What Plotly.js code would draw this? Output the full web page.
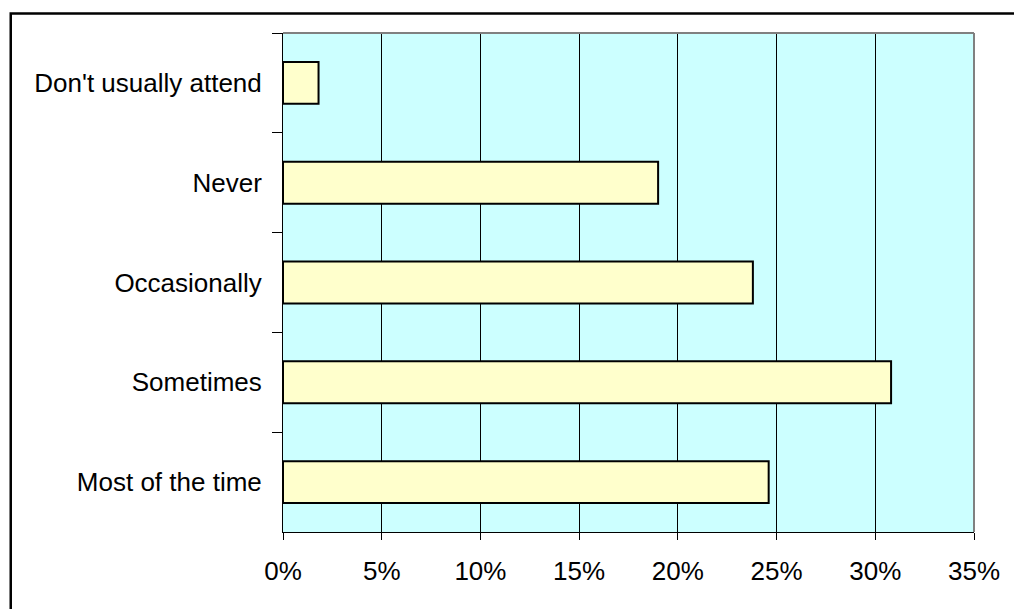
<!DOCTYPE html>
<html>
<head>
<meta charset="utf-8">
<script src="https://cdn.plot.ly/plotly-3.0.1.min.js"></script>
<style>
  html, body { margin: 0; padding: 0; background: #ffffff; }
  #chart { width: 1014px; height: 609px; }
</style>
</head>
<body>
<div id="chart"></div>
<script>
// Attendance responses, listed top to bottom
const categories = ["Don't usually attend", "Never", "Occasionally", "Sometimes", "Most of the time"];
// Share of respondents (%)
const shares = [1.8, 19.0, 23.8, 30.8, 24.6];
// Percentage axis ticks
const tickValues = [0, 5, 10, 15, 20, 25, 30, 35];
const tickLabels = ["0%", "5%", "10%", "15%", "20%", "25%", "30%", "35%"];

const trace = {
  type: 'bar',
  orientation: 'h',
  x: shares,
  y: categories,
  width: 0.42,
  marker: { color: '#FFFFCC', line: { color: '#000000', width: 2 } },
  hoverinfo: 'x+y'
};

const layout = {
  width: 1014,
  height: 609,
  margin: { l: 283, r: 40, t: 33, b: 77, pad: 0 },
  paper_bgcolor: '#ffffff',
  plot_bgcolor: '#CCFFFF',
  showlegend: false,
  font: { family: 'Liberation Sans, Arial, sans-serif', color: '#000000' },
  bargap: 0.58,
  xaxis: {
    range: [0, 35],
    tickvals: tickValues,
    ticktext: tickLabels,
    showgrid: true,
    gridcolor: '#000000',
    gridwidth: 1,
    zeroline: false,
    showline: true,
    linecolor: '#000000',
    linewidth: 1,
    ticks: 'outside',
    ticklen: 7,
    tickcolor: '#000000',
    tickwidth: 1,
    ticklabelstandoff: 9,
    tickfont: { size: 26, family: 'Liberation Sans, Arial, sans-serif', color: '#000000' },
    fixedrange: true
  },
  yaxis: {
    type: 'category',
    autorange: 'reversed',
    tickson: 'boundaries',
    ticks: 'outside',
    ticklen: 10,
    tickcolor: '#000000',
    tickwidth: 1,
    showgrid: false,
    zeroline: false,
    showline: true,
    linecolor: '#000000',
    linewidth: 1,
    ticklabelstandoff: 15,
    tickfont: { size: 26, family: 'Liberation Sans, Arial, sans-serif', color: '#000000' },
    fixedrange: true
  },
  shapes: [
    // gray top and right edges of the plotting area
    { type: 'line', xref: 'paper', yref: 'paper', x0: 0, x1: 1, y0: 1, y1: 1,
      line: { color: '#808080', width: 2 } },
    { type: 'line', xref: 'paper', yref: 'paper', x0: 1, x1: 1, y0: 0, y1: 1,
      line: { color: '#808080', width: 2 } },
    // outer chart frame
    { type: 'rect', xref: 'paper', yref: 'paper',
      x0: -0.394, x1: 1.08, y0: -0.17, y1: 1.039,
      line: { color: '#000000', width: 2.5 }, fillcolor: 'rgba(0,0,0,0)' }
  ]
};

Plotly.newPlot('chart', [trace], layout, { staticPlot: true, displayModeBar: false });
</script>
</body>
</html>
